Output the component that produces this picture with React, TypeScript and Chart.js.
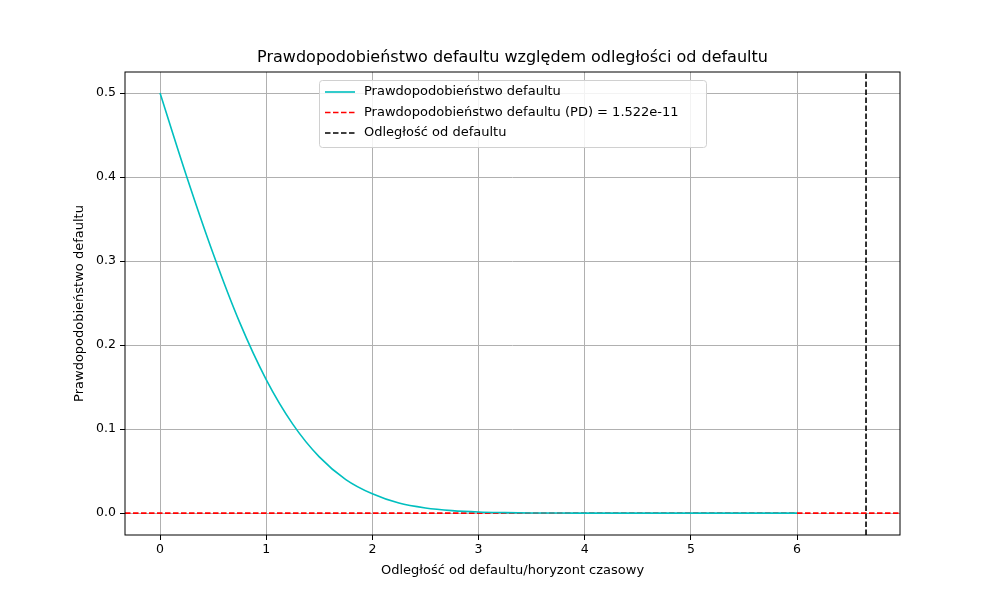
import { useEffect, useRef } from "react";
import { Chart, registerables } from "chart.js";

Chart.register(...registerables);

const xs = [0, 0.25, 0.5, 0.75, 1, 1.25, 1.5, 1.75, 2, 2.25, 2.5, 2.75, 3, 3.25, 3.5, 3.75, 4, 4.5, 5, 5.5, 6];
const pd = [0.5, 0.401, 0.309, 0.227, 0.159, 0.106, 0.067, 0.04, 0.023, 0.012, 0.0062, 0.003, 0.0013, 0.0006, 0.0002, 0.0001, 0.00003, 0, 0, 0, 0];
const xRange = [-0.33, 6.97];
const yRange = [-0.026, 0.525];
const distance = 6.65;
const xTicks = [0, 1, 2, 3, 4, 5, 6];
const yTicks = [0, 0.1, 0.2, 0.3, 0.4, 0.5];
const legendLabels = [
  "Prawdopodobieństwo defaultu",
  "Prawdopodobieństwo defaultu (PD) = 1.522e-11",
  "Odległość od defaultu",
];
const legendColors = ["#00bfbf", "#ff0000", "#000000"];

const FONT = "DejaVu Sans";

const overlay = {
  id: "overlay",
  afterDraw(chart: Chart) {
    const ctx = chart.ctx;
    const a = chart.chartArea;
    ctx.save();
    ctx.strokeStyle = "#000";
    ctx.lineWidth = 1;
    ctx.strokeRect(a.left, a.top, a.right - a.left, a.bottom - a.top);
    ctx.fillStyle = "#000";
    ctx.textAlign = "center";
    ctx.textBaseline = "middle";
    ctx.font = `16px ${FONT}`;
    ctx.fillText("Prawdopodobieństwo defaultu względem odległości od defaultu", (a.left + a.right) / 2, 58);
    ctx.font = `13px ${FONT}`;
    ctx.fillText("Odległość od defaultu/horyzont czasowy", (a.left + a.right) / 2, 571);
    ctx.save();
    ctx.translate(80, (a.top + a.bottom) / 2);
    ctx.rotate(-Math.PI / 2);
    ctx.fillText("Prawdopodobieństwo defaultu", 0, 0);
    ctx.restore();
    // legend
    ctx.fillStyle = "rgba(255,255,255,0.85)";
    ctx.strokeStyle = "#d0d0d0";
    ctx.beginPath();
    ctx.roundRect(319.5, 80.5, 387, 67, 3);
    ctx.fill();
    ctx.stroke();
    legendLabels.forEach((t, i) => {
      const y = 92 + i * 20.5;
      ctx.strokeStyle = legendColors[i];
      ctx.lineWidth = 1.6;
      ctx.setLineDash(i === 0 ? [] : [5.5, 2.5]);
      ctx.beginPath();
      ctx.moveTo(325, y);
      ctx.lineTo(355, y);
      ctx.stroke();
      ctx.setLineDash([]);
      ctx.fillStyle = "#000";
      ctx.textAlign = "left";
      ctx.fillText(t, 364, y);
    });
    ctx.restore();
  },
};

export default function App() {
  const ref = useRef<HTMLCanvasElement | null>(null);
  useEffect(() => {
    document.body.style.margin = "0";
    if (!ref.current) return;
    const chart = new Chart(ref.current, {
      type: "scatter",
      data: {
        datasets: [
          {
            data: xs.map((x, i) => ({ x, y: pd[i] })),
            showLine: true, borderColor: legendColors[0], borderWidth: 1.6, pointRadius: 0,
            cubicInterpolationMode: "monotone",
          },
          {
            data: [{ x: xRange[0], y: 0 }, { x: xRange[1], y: 0 }],
            showLine: true, borderColor: legendColors[1], borderWidth: 1.6, borderDash: [5.5, 2.5], pointRadius: 0,
          },
          {
            data: [{ x: distance, y: yRange[0] }, { x: distance, y: yRange[1] }],
            showLine: true, borderColor: legendColors[2], borderWidth: 1.6, borderDash: [5.5, 2.5], pointRadius: 0,
          },
        ],
      },
      options: {
        animation: false,
        responsive: false,
        layout: { padding: { top: 72, right: 100, left: 0, bottom: 0 } },
        plugins: { legend: { display: false }, tooltip: { enabled: false } },
        scales: {
          x: {
            type: "linear", min: xRange[0], max: xRange[1],
            afterBuildTicks: (s: any) => { s.ticks = xTicks.map((v) => ({ value: v })); },
            afterFit: (s: any) => { s.height = 65; },
            grid: { color: "#b0b0b0", tickLength: 5, tickColor: "#000" },
            border: { display: false },
            ticks: { color: "#000", font: { family: FONT, size: 12.5 }, padding: 2, maxRotation: 0 },
          },
          y: {
            type: "linear", min: yRange[0], max: yRange[1],
            afterBuildTicks: (s: any) => { s.ticks = yTicks.map((v) => ({ value: v })); },
            afterFit: (s: any) => { s.width = 125; },
            grid: { color: "#b0b0b0", tickLength: 5, tickColor: "#000" },
            border: { display: false },
            ticks: { color: "#000", font: { family: FONT, size: 12.5 }, padding: 4, callback: (v: any) => Number(v).toFixed(1) },
          },
        },
      },
      plugins: [overlay],
    });
    return () => chart.destroy();
  }, []);
  return <canvas ref={ref} width={1000} height={600} style={{ display: "block" }} />;
}
